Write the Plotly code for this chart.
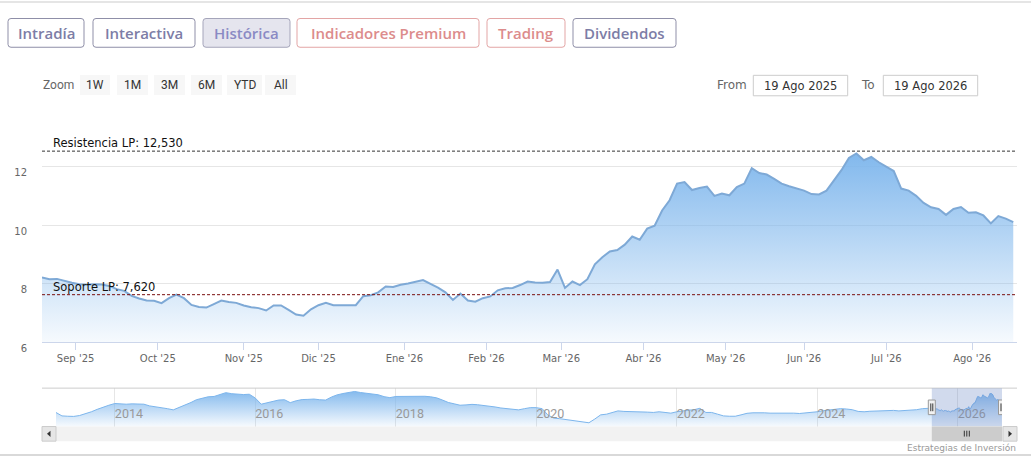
import pandas as pd
import plotly.graph_objects as go

W, H = 1031, 470

# ---------------- data ----------------
start_date = "2025-08-19"
end_date = "2026-08-19"
n_business_days = 262

prices = [8.21, 8.15, 8.16, 8.09, 8.03, 7.98, 7.96, 7.98, 7.97, 7.92,
          7.81, 7.75, 7.58, 7.49, 7.42, 7.41, 7.33, 7.50, 7.62, 7.50,
          7.27, 7.20, 7.18, 7.30, 7.42, 7.37, 7.34, 7.25, 7.19, 7.16,
          7.08, 7.25, 7.25, 7.10, 6.94, 6.90, 7.12, 7.26, 7.34, 7.26,
          7.26, 7.28, 7.26, 7.57, 7.60, 7.70, 7.90, 7.88, 7.96, 8.00,
          8.07, 8.12, 7.99, 7.86, 7.70, 7.44, 7.66, 7.42, 7.38, 7.50,
          7.56, 7.77, 7.84, 7.85, 7.95, 8.07, 8.04, 8.03, 8.05, 8.48,
          7.85, 8.07, 7.95, 8.15, 8.66, 8.90, 9.10, 9.15, 9.33, 9.61,
          9.50, 9.88, 9.98, 10.50, 10.85, 11.42, 11.47, 11.20, 11.27, 11.32,
          11.00, 11.08, 11.02, 11.30, 11.42, 11.95, 11.78, 11.73, 11.58, 11.42,
          11.33, 11.25, 11.18, 11.06, 11.05, 11.18, 11.55, 11.88, 12.30, 12.45,
          12.22, 12.33, 12.15, 12.01, 11.85, 11.25, 11.18, 11.00, 10.76, 10.61,
          10.55, 10.35, 10.55, 10.62, 10.42, 10.44, 10.33, 10.06, 10.31, 10.22,
          10.10]

resistance = 12.530
support = 7.620

tick_dates = ["2025-09-01", "2025-10-01", "2025-11-03", "2025-12-01", "2026-01-01",
              "2026-02-02", "2026-03-02", "2026-04-01", "2026-05-01", "2026-06-01",
              "2026-07-01", "2026-08-03"]
tick_labels = ["Sep '25", "Oct '25", "Nov '25", "Dic '25", "Ene '26", "Feb '26",
               "Mar '26", "Abr '26", "May '26", "Jun '26", "Jul '26", "Ago '26"]

# navigator history (monthly), Mar 2013 .. Jul 2025
hist_start = "2013-03-01"
hist_values = [
    6.78, 5.8, 5.7, 5.65, 5.9, 6.4, 7.0, 7.7, 8.4, 8.9,
    9.4, 9.25, 9.2, 9.3, 9.35, 9.2, 8.7, 8.45, 8.3, 7.9, 7.55, 8.2,
    8.9, 9.7, 10.5, 11.0, 11.35, 11.45, 12.0, 12.55, 12.25, 12.05, 12.0, 12.1,
    11.0, 9.2, 9.6, 10.15, 10.4, 10.5, 9.65, 10.2, 10.55, 10.6, 10.7, 10.5,
    10.4, 11.3, 11.9, 12.3, 12.7, 12.9, 12.6, 12.4, 12.2, 11.95, 11.4, 11.1,
    11.45, 11.5, 11.4, 11.55, 11.65, 11.5, 11.35, 11.05, 10.4, 9.7, 9.3, 8.9,
    9.0, 9.15, 9.05, 8.9, 8.7, 8.4, 8.1, 7.85, 7.6, 7.55, 7.9, 8.2,
    8.2, 7.9, 6.1, 5.15, 5.0, 4.75, 4.5, 4.25, 4.05, 3.8, 4.9, 6.1,
    6.3, 6.7, 7.25, 7.1, 7.05, 7.2, 7.0, 6.9, 6.8, 7.0, 6.8, 6.6,
    7.0, 7.3, 7.45, 7.6, 8.0, 6.8, 6.8, 6.3, 5.8, 5.7, 5.7, 6.1,
    6.55, 6.7, 6.75, 6.7, 6.6, 6.65, 6.7, 6.75, 6.6, 6.5, 6.6, 6.75,
    7.0, 7.3, 7.55, 7.75, 7.9, 7.8, 7.6, 7.1, 7.0, 7.15, 7.25, 7.4,
    7.5, 7.4, 7.25, 7.3, 7.45, 7.6, 7.9]

tabs = ["Intradía", "Interactiva", "Histórica", "Indicadores Premium", "Trading", "Dividendos"]
zoom_buttons = ["1W", "1M", "3M", "6M", "YTD", "All"]
from_label = "19 Ago 2025"
to_label = "19 Ago 2026"
credits = "Estrategias de Inversión"

# ---------------- derived series ----------------
main_dates = pd.bdate_range(start_date, periods=n_business_days)[::2]
hist_dates = pd.date_range(hist_start, periods=len(hist_values), freq="MS")
nav_dates = list(hist_dates) + list(main_dates)
nav_values = list(hist_values) + list(prices)


def fmt_es(v):
    return f"{v:.3f}".replace(".", ",")


# ---------------- helpers (pixel -> paper) ----------------
def X(px):
    return px / W


def Y(py):
    return 1 - py / H


shapes = []
annotations = []


def rect(x0, y0, x1, y1, fill, line_color=None, lw=0):
    shapes.append(dict(type="rect", xref="paper", yref="paper",
                       x0=X(x0), x1=X(x1), y0=Y(y1), y1=Y(y0),
                       fillcolor=fill, line=dict(color=line_color or fill, width=lw)))


def rrect(x0, y0, x1, y1, r, fill, line_color, lw=1):
    p = (f"M{X(x0 + r)},{Y(y0)} L{X(x1 - r)},{Y(y0)} Q{X(x1)},{Y(y0)} {X(x1)},{Y(y0 + r)} "
         f"L{X(x1)},{Y(y1 - r)} Q{X(x1)},{Y(y1)} {X(x1 - r)},{Y(y1)} "
         f"L{X(x0 + r)},{Y(y1)} Q{X(x0)},{Y(y1)} {X(x0)},{Y(y1 - r)} "
         f"L{X(x0)},{Y(y0 + r)} Q{X(x0)},{Y(y0)} {X(x0 + r)},{Y(y0)} Z")
    shapes.append(dict(type="path", xref="paper", yref="paper", path=p,
                       fillcolor=fill, line=dict(color=line_color, width=lw)))


def hline(x0, x1, y, color, lw=1):
    shapes.append(dict(type="line", xref="paper", yref="paper",
                       x0=X(x0), x1=X(x1), y0=Y(y), y1=Y(y), line=dict(color=color, width=lw)))


def text(x, y, s, size, color, family, xanchor="left", weight=None):
    f = dict(size=size, color=color, family=family)
    if weight:
        f["weight"] = weight
    annotations.append(dict(x=X(x), y=Y(y), xref="paper", yref="paper", text=s,
                            showarrow=False, xanchor=xanchor, yanchor="middle",
                            font=f, borderpad=0))


# ---------------- page chrome ----------------
hline(0, W, 2, "#dddddd", 1.5)
hline(0, W, 467, "#cccccc", 1.5)

tab_x = [(8, 84), (93, 195), (203, 290), (297, 479), (487, 565), (573, 676)]
tab_kind = ["p", "p", "a", "r", "r", "p"]
style = {"p": ("white", "#8f8fa8", "#7d7da6"),
         "a": ("#e5e5ee", "#a5a5ba", "#8a8ac4"),
         "r": ("white", "#e3a5a5", "#dc8c8c")}
for label, (a, b), k in zip(tabs, tab_x, tab_kind):
    fill, border, tcol = style[k]
    rrect(a, 19, b, 48.5, 3, fill, border, 1)
    text((a + b) / 2, 34, label, 15, tcol, "Open Sans", "center", 600)

text(42, 87.5, "Zoom", 12, "#666666", "Roboto")
zb_x = [(80, 110), (117, 148), (154, 185), (191, 222), (227, 262), (265, 296)]
for label, (a, b) in zip(zoom_buttons, zb_x):
    rect(a, 77, b, 97.5, "#f7f7f7")
    text((a + b) / 2, 87.5, label, 12, "#333333", "Roboto", "center")

text(716, 87.5, "From", 12, "#666666", "DejaVu Sans")
rect(753.3, 77.3, 847.7, 98.3, "white", "#cccccc", 1)
text(800.5, 87.8, from_label, 11.5, "#333333", "DejaVu Sans", "center")
text(860, 87.5, "To", 12, "#666666", "DejaVu Sans")
rect(883.3, 77.3, 977.7, 98.3, "white", "#cccccc", 1)
text(930.5, 87.8, to_label, 11.5, "#333333", "DejaVu Sans", "center")

# ---------------- support / resistance ----------------
for val, name, col in [(resistance, "Resistencia LP", "#333333"), (support, "Soporte LP", "#7a1010")]:
    shapes.append(dict(type="line", xref="x domain", yref="y", x0=0, x1=1, y0=val, y1=val,
                       line=dict(color=col, width=1, dash="3px,2px")))
    annotations.append(dict(x=X(52), y=val, xref="paper", yref="y", text=f"{name}: {fmt_es(val)}",
                            showarrow=False, xanchor="left", yanchor="bottom", yshift=0,
                            font=dict(family="DejaVu Sans", size=11.5, color="#111111"), borderpad=0))

# ---------------- navigator chrome ----------------
nav_top, nav_bot = 398.3, 437.7
hline(42, 1017, nav_top, "#cccccc", 1)
# mask over selected range
shapes.append(dict(type="rect", xref="x2", yref="paper", x0=main_dates[0], x1=end_date,
                   y0=Y(nav_bot), y1=Y(nav_top), fillcolor="rgba(102,133,194,0.3)",
                   line=dict(width=0)))
# scrollbar
rect(42, nav_bot, 1017, 452.7, "#f2f2f2")
rect(42, nav_bot, 56, 452.7, "#e6e6e6", "#cccccc", 1)
rect(1003, nav_bot, 1017, 452.7, "#e6e6e6", "#cccccc", 1)
shapes.append(dict(type="path", xref="paper", yref="paper",
                   path=f"M{X(50.5)},{Y(442)} L{X(47)},{Y(445.2)} L{X(50.5)},{Y(448.4)} Z",
                   fillcolor="#333333", line=dict(width=0)))
shapes.append(dict(type="path", xref="paper", yref="paper",
                   path=f"M{X(1008.5)},{Y(442)} L{X(1012)},{Y(445.2)} L{X(1008.5)},{Y(448.4)} Z",
                   fillcolor="#333333", line=dict(width=0)))
shapes.append(dict(type="rect", xref="x2", yref="paper", x0=main_dates[0], x1=end_date,
                   y0=Y(452.7), y1=Y(nav_bot), fillcolor="#cccccc", line=dict(width=0)))
mid_date = main_dates[len(main_dates) // 2]
for dx in (-2.5, 0, 2.5):
    shapes.append(dict(type="line", xref="x2", yref="paper", xsizemode="pixel", xanchor=mid_date,
                       x0=dx, x1=dx, y0=Y(448), y1=Y(442), line=dict(color="#333333", width=1)))
# handles
for d in (main_dates[0], end_date):
    shapes.append(dict(type="rect", xref="x2", yref="paper", xsizemode="pixel", xanchor=d,
                       x0=-3.5, x1=3.5, y0=Y(425.5), y1=Y(410.5), fillcolor="#f2f2f2",
                       line=dict(color="#999999", width=1)))
    for dx in (-1, 1):
        shapes.append(dict(type="line", xref="x2", yref="paper", xsizemode="pixel", xanchor=d,
                           x0=dx, x1=dx, y0=Y(422), y1=Y(414), line=dict(color="#333333", width=1)))

text(1017, 459.5, credits, 9, "#999999", "DejaVu Sans", "right")

# ---------------- traces ----------------
fig = go.Figure()
fig.add_trace(go.Scatter(
    x=main_dates, y=prices, mode="lines", xaxis="x", yaxis="y",
    line=dict(color="#7ea9d6", width=2),
    fill="tozeroy",
    fillgradient=dict(type="vertical", start=6, stop=12.6,
                      colorscale=[[0, "rgba(124,181,236,0.04)"], [1, "rgba(124,181,236,0.97)"]]),
    hoverinfo="skip"))
fig.add_trace(go.Scatter(
    x=nav_dates, y=nav_values, mode="lines", xaxis="x2", yaxis="y2",
    line=dict(color="#7cb5ec", width=1),
    fill="tozeroy",
    fillgradient=dict(type="vertical", start=2.7, stop=13.2,
                      colorscale=[[0, "rgba(124,181,236,0.04)"], [1, "rgba(124,181,236,0.95)"]]),
    hoverinfo="skip"))

axis_font = dict(family="DejaVu Sans", size=10, color="#666666")
fig.update_layout(
    width=W, height=H, margin=dict(l=0, r=0, t=0, b=0),
    paper_bgcolor="white", plot_bgcolor="white", showlegend=False,
    xaxis=dict(domain=[X(42), X(1017)], anchor="y", type="date",
               range=[start_date, end_date], rangebreaks=[dict(bounds=["sat", "mon"])],
               tickvals=tick_dates, ticktext=tick_labels, showgrid=False,
               showline=True, linecolor="#ccd6eb", linewidth=1,
               ticks="outside", ticklen=7, tickcolor="#ccd6eb", tickfont=axis_font,
               zeroline=False, fixedrange=True),
    yaxis=dict(domain=[Y(351), Y(111)], anchor="x", range=[6, 14],
               tickvals=[6, 8, 10, 12, 14], ticktext=["6", "8", "10", "12", ""],
               gridcolor="#e6e6e6", gridwidth=1, zeroline=False, showline=False,
               ticks="", ticklabelstandoff=14, ticklabelshift=6, tickfont=axis_font,
               fixedrange=True),
    xaxis2=dict(domain=[X(56), X(1002)], anchor="y2", type="date",
                range=[hist_start, end_date], tick0="2014-01-01", dtick="M24",
                tickformat="%Y", ticklabelposition="inside right", ticks="",
                showgrid=True, gridcolor="#e6e6e6", gridwidth=1, showline=False,
                zeroline=False, tickfont=dict(family="Roboto", size=12.5, color="#999999"),
                fixedrange=True),
    yaxis2=dict(domain=[Y(nav_bot), Y(nav_top)], anchor="x2", range=[2.71, 13.87],
                visible=False, fixedrange=True),
    shapes=shapes, annotations=annotations,
)

page_js = (
    "var s=document.documentElement.style;s.margin='0';s.padding='0';s.overflow='hidden';"
    "var b=document.body.style;b.margin='0';b.padding='0';b.overflow='hidden';"
    "var gd=document.getElementById('{plot_id}');"
    "var vh=window.innerHeight;"
    "if(vh>300 && Math.abs(vh-" + str(H) + ")>1){Plotly.relayout(gd,{height:vh});}"
)
fig.write_html("out.html", config={"displayModeBar": False}, post_script=page_js)
